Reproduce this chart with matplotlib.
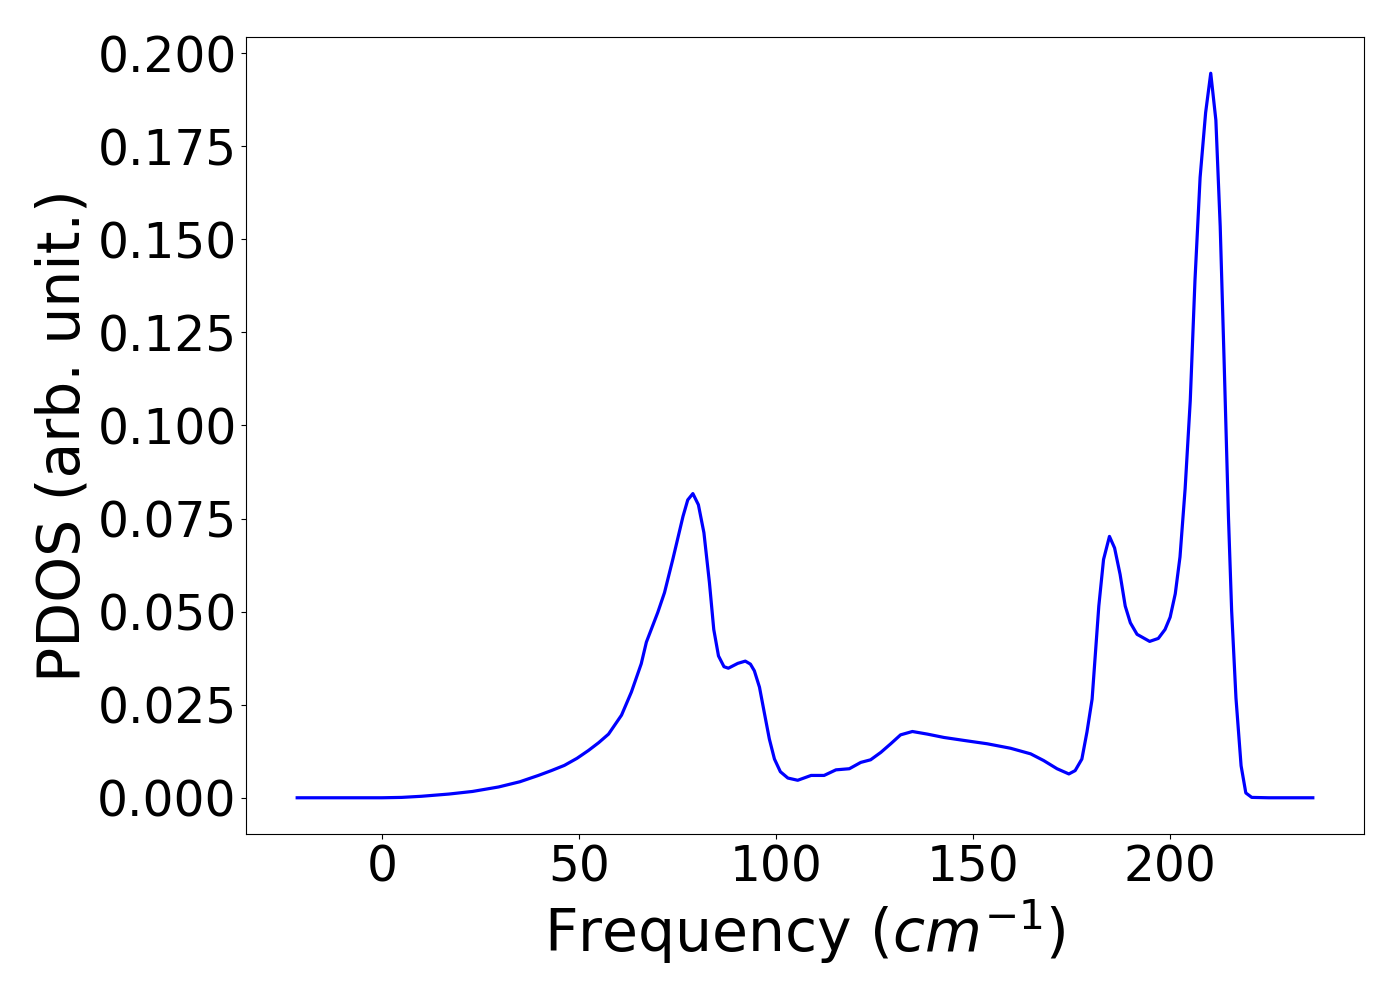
import matplotlib.pyplot as plt
from matplotlib.ticker import MultipleLocator, FormatStrFormatter

freq = [-21.5, -10, 0, 5, 10, 17, 23, 29.6, 35, 39.7, 43, 46.3, 49.5, 52.4, 55, 57.5,
        60.8, 63.3, 65.8, 67.1, 70, 71.7, 73.8, 76.4, 77.6, 78.9, 80.3, 81.7, 83.1,
        84.2, 85.4, 86.8, 87.9, 90.3, 92.2, 93.5, 94.5, 95.8, 97, 98.3, 99.6, 101.1,
        103, 105.5, 108.9, 112.2, 115.2, 118.6, 121.5, 124, 126.6, 129.1, 131.6,
        134.6, 138.4, 142.6, 147.7, 153.6, 159.5, 164.6, 167.9, 171.3, 174.3, 175.9,
        177.6, 178.9, 180.2, 181.9, 183.1, 184.6, 185.9, 187.3, 188.6, 189.9, 191.6,
        194.8, 197.0, 198.7, 200, 201.3, 202.5, 203.8, 205.1, 206.3, 207.6, 209.0,
        210.3, 211.6, 212.7, 213.7, 214.8, 215.6, 216.7, 218, 219.2, 220.7, 225,
        230, 236.2]
pdos = [0, 0, 0, 0.0001, 0.0004, 0.001, 0.0017, 0.0029, 0.0043, 0.006, 0.0073, 0.0087,
        0.0106, 0.0127, 0.0148, 0.0171, 0.0222, 0.0284, 0.036, 0.0418, 0.0498,
        0.0551, 0.064, 0.0756, 0.080, 0.0817, 0.0787, 0.0712, 0.0578, 0.0452, 0.0381,
        0.0352, 0.0348, 0.0361, 0.0367, 0.0359, 0.0341, 0.0297, 0.023, 0.0158, 0.0104,
        0.007, 0.0053, 0.0047, 0.006, 0.006, 0.0075, 0.0078, 0.0095, 0.0102, 0.0122,
        0.0145, 0.0169, 0.0178, 0.0171, 0.0162, 0.0154, 0.0145, 0.0133, 0.0118, 0.010,
        0.0078, 0.0064, 0.0073, 0.0104, 0.0177, 0.0265, 0.0515, 0.064, 0.0702, 0.0671,
        0.060, 0.0515, 0.047, 0.0439, 0.042, 0.0428, 0.0452, 0.0485, 0.0548, 0.0647,
        0.083, 0.1066, 0.139, 0.1666, 0.184, 0.1946, 0.182, 0.1535, 0.117, 0.0752,
        0.0503, 0.0268, 0.0086, 0.0013, 0.0001, 0, 0, 0]

fig, ax = plt.subplots(figsize=(14, 10), dpi=100)
fig.subplots_adjust(left=0.176, right=0.974, top=0.963, bottom=0.166)

ax.plot(freq, pdos, color="blue", linewidth=2.3)
ax.set_xlabel("Frequency ($cm^{-1}$)", fontsize=42)
ax.set_ylabel("PDOS (arb. unit.)", fontsize=42)
ax.yaxis.set_major_locator(MultipleLocator(0.025))
ax.yaxis.set_major_formatter(FormatStrFormatter("%.3f"))
ax.tick_params(labelsize=35)

fig.savefig("out.png")
